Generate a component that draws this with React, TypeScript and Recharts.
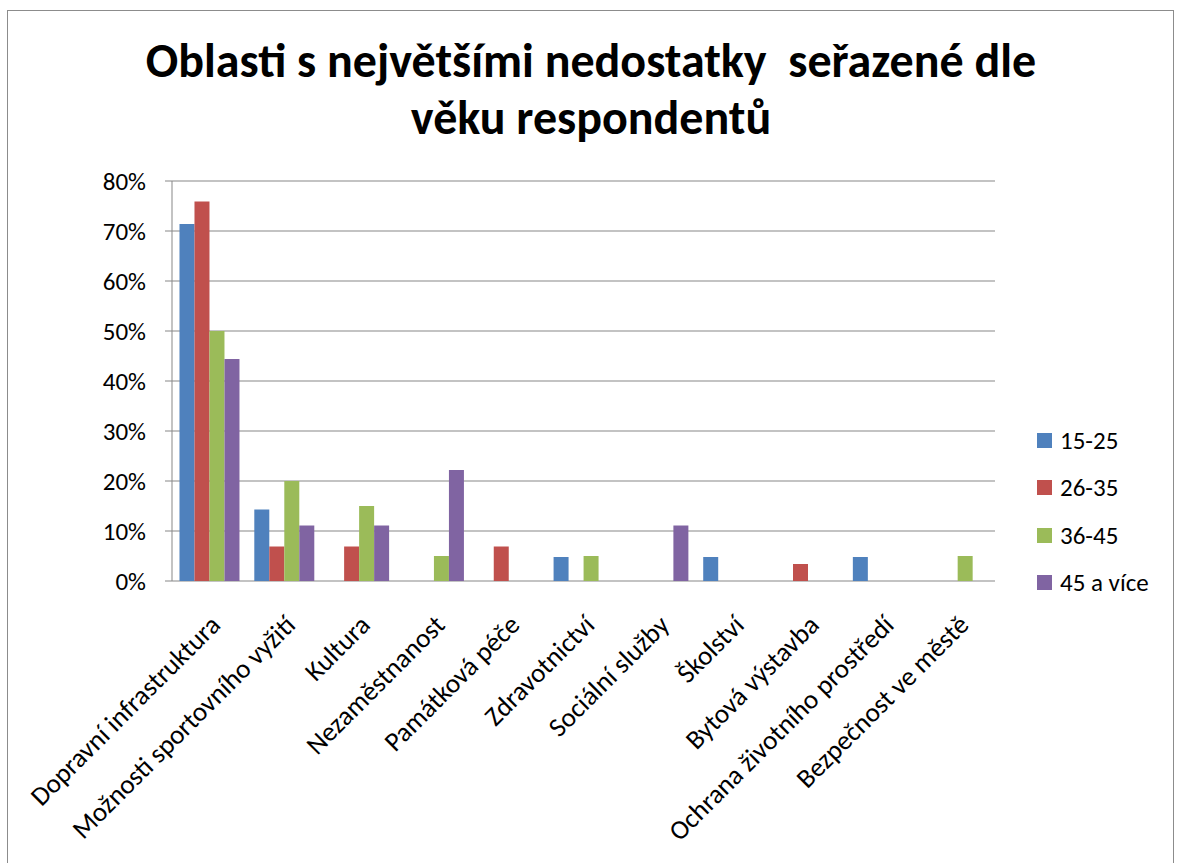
import React from "react";
import { BarChart, Bar, XAxis, YAxis, CartesianGrid } from "recharts";

const categories = [
  "Dopravní infrastruktura",
  "Možnosti sportovního vyžití",
  "Kultura",
  "Nezaměstnanost",
  "Památková péče",
  "Zdravotnictví",
  "Sociální služby",
  "Školství",
  "Bytová výstavba",
  "Ochrana životního prostředí",
  "Bezpečnost ve městě",
];

const age15to25 = [71.4, 14.3, 0, 0, 0, 4.8, 0, 4.8, 0, 4.8, 0];
const age26to35 = [75.9, 6.9, 6.9, 0, 6.9, 0, 0, 0, 3.4, 0, 0];
const age36to45 = [50, 20, 15, 5, 0, 5, 0, 0, 0, 0, 5];
const age45plus = [44.4, 11.1, 11.1, 22.2, 0, 0, 11.1, 0, 0, 0, 0];

const seriesNames = ["15-25", "26-35", "36-45", "45 a více"];
const seriesKeys = ["a", "b", "c", "d"];
const seriesColors = ["#4F81BD", "#C0504D", "#9BBB59", "#8064A2"];

const yTicks = [0, 10, 20, 30, 40, 50, 60, 70, 80];
const boundaryTicks = [0, 1, 2, 3, 4, 5, 6, 7, 8, 9, 10, 11];

const data = categories.map((name, i) => ({
  name,
  a: age15to25[i],
  b: age26to35[i],
  c: age36to45[i],
  d: age45plus[i],
}));

const FONT = "Carlito, Lato, 'Open Sans', sans-serif";
const GRID = "#878787";

// rotated category label, end of text hangs just under the axis
function CategoryTick(props: any) {
  const { x, y, payload } = props;
  const ax = x + 2;
  const ay = y + 27;
  return (
    <text
      x={ax}
      y={ay}
      dy={15}
      textAnchor="end"
      transform={`rotate(-45, ${ax}, ${ay})`}
      fontSize={27}
      fontFamily={FONT}
      fill="#000"
    >
      {payload.value}
    </text>
  );
}

export default function App() {
  return (
    <div
      style={{
        position: "absolute",
        left: 0,
        top: 0,
        width: 1179,
        height: 863,
        background: "#fff",
        fontFamily: FONT,
        overflow: "hidden",
      }}
    >
      {/* chart area border */}
      <div
        style={{
          position: "absolute",
          left: 7,
          top: 10,
          width: 1167,
          height: 870,
          border: "1px solid #8c8c8c",
          boxSizing: "border-box",
        }}
      />
      <div
        style={{
          position: "absolute",
          left: 8,
          top: 32,
          width: 1166,
          textAlign: "center",
          fontWeight: "bold",
          fontSize: 48,
          lineHeight: "57px",
          whiteSpace: "pre",
          color: "#000",
        }}
      >
        {"Oblasti s největšími nedostatky  seřazené dle\nvěku respondentů"}
      </div>

      <div style={{ position: "absolute", left: 0, top: 0 }}>
        <BarChart
          width={1179}
          height={863}
          data={data}
          margin={{ top: 181, right: 184, left: 112, bottom: 0 }}
          barCategoryGap="10%"
          barGap={0}
        >
          <CartesianGrid horizontal vertical={false} stroke={GRID} strokeWidth={1} />
          <XAxis
            xAxisId="bounds"
            type="number"
            domain={[0, 11]}
            ticks={boundaryTicks}
            height={0}
            tickSize={7}
            tickFormatter={() => ""}
            stroke={GRID}
            tickLine={{ stroke: GRID }}
            axisLine={{ stroke: GRID }}
          />
          <XAxis
            xAxisId="cat"
            dataKey="name"
            interval={0}
            height={282}
            axisLine={false}
            tickLine={false}
            tick={<CategoryTick />}
          />
          <YAxis
            width={60}
            domain={[0, 80]}
            ticks={yTicks}
            tickFormatter={(v: number) => `${v}%`}
            tickSize={7}
            tickMargin={19}
            stroke={GRID}
            tick={{ fill: "#000", fontSize: 25, fontFamily: FONT }}
            interval={0}
          />
          {seriesKeys.map((k, i) => (
            <Bar
              key={k}
              xAxisId="cat"
              dataKey={k}
              name={seriesNames[i]}
              fill={seriesColors[i]}
              isAnimationActive={false}
            />
          ))}
        </BarChart>
      </div>

      {/* legend */}
      <div style={{ position: "absolute", left: 1037, top: 417 }}>
        {seriesNames.map((n, i) => (
          <div
            key={n}
            style={{
              display: "flex",
              alignItems: "center",
              height: 47.3,
              fontSize: 25,
              color: "#000",
            }}
          >
            <span
              style={{
                width: 15,
                height: 15,
                background: seriesColors[i],
                marginRight: 8,
                display: "inline-block",
                flexShrink: 0,
              }}
            />
            {n}
          </div>
        ))}
      </div>
    </div>
  );
}
